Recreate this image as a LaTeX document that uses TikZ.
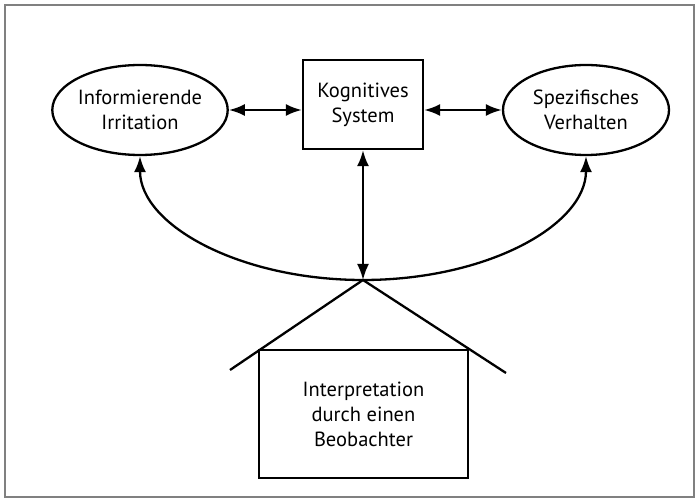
\documentclass[tikz,border=0pt]{standalone}
\usepackage{fontspec}
\setmainfont{PT Sans}
\usetikzlibrary{arrows.meta,shapes.geometric}
\begin{document}
\begin{tikzpicture}[x=1pt,y=-1pt,
  every node/.style={font=\fontsize{20.5}{25}\selectfont, align=center, inner sep=0pt},
  oval/.style={ellipse, draw, line width=2.3pt, minimum width=166pt, minimum height=90pt},
  boxn/.style={draw, line width=2.3pt},
  arr/.style={line width=2.3pt, {Latex[length=16pt,width=12pt]}-{Latex[length=16pt,width=12pt]}},
  arc1/.style={line width=2.3pt, -{Latex[length=16pt,width=12pt]}},
  thick2/.style={line width=2.3pt}]
\useasboundingbox (0,0) rectangle (699,502);
\draw[gray, line width=1.2pt] (5,5) rectangle (694,497);
\node[oval] (L) at (140,110) {Informierende\\Irritation};
\node[boxn, minimum width=120pt, minimum height=89pt] (K) at (363,104.5) {Kognitives\\System};
\node[oval] (R) at (586,110) {Spezifisches\\Verhalten};
\coordinate (apex) at (363,280);
\node[boxn, minimum width=209pt, minimum height=128pt] (H) at (363.5,414) {Interpretation\\durch einen\\Beobachter};
\coordinate (rl) at (230,370);
\coordinate (rr) at (506,373);
\draw[thick2] (rl) -- (apex) -- (rr);
\draw[arr] (L.east) -- (L.east -| K.west);
\draw[arr] (K.east |- R.west) -- (R.west);
\draw[arr] (K.south) -- (apex);
\draw[arc1] (apex) .. controls +(-123,0) and +(0,69) .. (L.south);
\draw[arc1] (apex) .. controls +(124,0) and +(0,69) .. (R.south);
\end{tikzpicture}
\end{document}
